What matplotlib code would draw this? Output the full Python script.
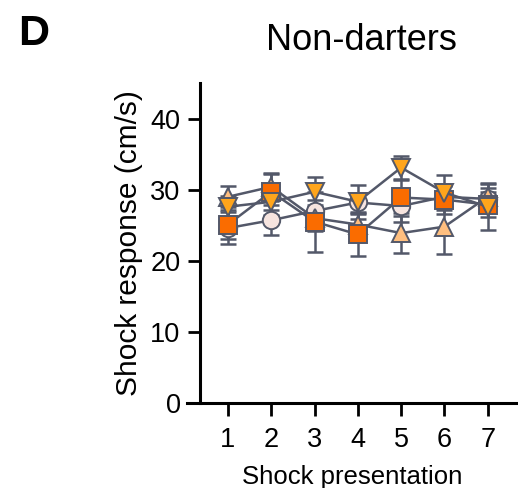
import matplotlib.pyplot as plt

plt.rcParams["font.family"] = ["Liberation Sans", "DejaVu Sans"]

presentation = [1, 2, 3, 4, 5, 6, 7]

circle_mean = [24.6, 25.7, 27.0, 28.2, 27.7, 29.0, 28.7]
circle_err = [2.2, 2.1, 1.5, 1.3, 2.3, 1.5, 1.5]
tri_up_mean = [29.0, 30.4, 26.0, 25.1, 23.9, 24.8, 29.0]
tri_up_err = [1.5, 2.0, 1.8, 1.5, 2.8, 3.8, 2.0]
square_mean = [25.1, 29.7, 25.5, 23.7, 28.9, 28.6, 27.9]
square_err = [2.0, 2.5, 4.2, 3.0, 2.6, 2.0, 1.8]
tri_down_mean = [27.6, 28.3, 29.7, 28.3, 33.1, 29.6, 27.6]
tri_down_err = [1.5, 1.8, 2.1, 2.4, 1.7, 2.4, 3.2]

series = [
    (circle_mean, circle_err, "o", "#f6e4df"),
    (tri_up_mean, tri_up_err, "^", "#ffbf7f"),
    (square_mean, square_err, "s", "#fa6c00"),
    (tri_down_mean, tri_down_err, "v", "#ffa51c"),
]

edge = "#535869"

fig = plt.figure(figsize=(5.18, 4.88), dpi=100)
ax = fig.add_axes([0.361, 0.174, 0.639, 0.656])

for i, (m, e, mk, fc) in enumerate(series):
    ax.errorbar(presentation, m, yerr=e, fmt="none", ecolor=edge,
                elinewidth=1.8, capsize=6, capthick=1.8, zorder=2 + i * 0.1)
for i, (m, e, mk, fc) in enumerate(series):
    ax.plot(presentation, m, color=edge, lw=1.8, marker=mk, markersize=12.5,
            markerfacecolor=fc, markeredgecolor=edge, markeredgewidth=1.4,
            zorder=3 + i)

ax.set_xlim(0.053, 7.70)
ax.set_ylim(0, 45)
ax.spines["left"].set_position(("data", 0.353))
ax.spines["left"].set_bounds(0, 45)
ax.spines["top"].set_visible(False)
ax.spines["right"].set_visible(False)
for s in ["left", "bottom"]:
    ax.spines[s].set_linewidth(2.2)

ax.set_xticks(presentation)
ax.set_yticks([0, 10, 20, 30, 40])
ax.tick_params(axis="both", length=9, width=2, labelsize=19.5)
ax.tick_params(axis="x", pad=8)
ax.tick_params(axis="y", pad=5)
ax.set_xlabel("Shock presentation", fontsize=18.5, labelpad=9)
ax.set_ylabel("Shock response (cm/s)", fontsize=21.5, labelpad=5)

fig.text(0.698, 0.918, "Non-darters", fontsize=26, ha="center", va="center")
fig.text(0.035, 0.93, "D", fontsize=31, fontweight="bold", ha="left", va="center")

fig.savefig("out.png", dpi=100)
